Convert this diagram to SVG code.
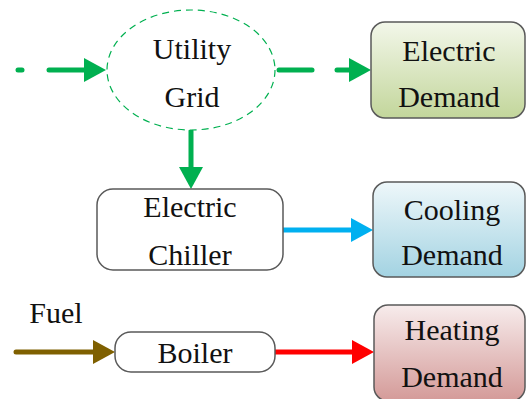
<svg xmlns="http://www.w3.org/2000/svg" width="528" height="399" viewBox="0 0 528 399">
<defs>
<style>
.t{font-family:"Liberation Serif","Times New Roman",serif;font-size:30px;fill:#111;text-anchor:middle}
.box{stroke:#595959;stroke-width:1.5}
.g{stroke:#00b050;stroke-width:5;fill:none;stroke-linecap:round}
</style>
<linearGradient id="gG" x1="0" y1="0" x2="0" y2="1"><stop offset="0" stop-color="#f3f7ea"/><stop offset="1" stop-color="#c3d69b"/></linearGradient>
<linearGradient id="gB" x1="0" y1="0" x2="0" y2="1"><stop offset="0" stop-color="#eef7fa"/><stop offset="1" stop-color="#a3d3e2"/></linearGradient>
<linearGradient id="gR" x1="0" y1="0" x2="0" y2="1"><stop offset="0" stop-color="#f7ecec"/><stop offset="1" stop-color="#d49a98"/></linearGradient>
<marker id="aG" markerUnits="userSpaceOnUse" markerWidth="22" markerHeight="24" refX="10" refY="12" orient="auto"><path d="M0,0 L22,12 L0,24 z" fill="#00b050"/></marker>
<marker id="aB" markerUnits="userSpaceOnUse" markerWidth="22" markerHeight="24" refX="10" refY="12" orient="auto"><path d="M0,0 L22,12 L0,24 z" fill="#00b0f0"/></marker>
<marker id="aR" markerUnits="userSpaceOnUse" markerWidth="22" markerHeight="24" refX="10" refY="12" orient="auto"><path d="M0,0 L22,12 L0,24 z" fill="#ff0000"/></marker>
<marker id="aN" markerUnits="userSpaceOnUse" markerWidth="22" markerHeight="24" refX="10" refY="12" orient="auto"><path d="M0,0 L22,12 L0,24 z" fill="#7f6000"/></marker>
</defs>
<rect width="528" height="399" fill="#fff"/>
<g id="connectors">
<line class="g" x1="18" y1="70" x2="22" y2="70"/>
<line class="g" x1="49" y1="70" x2="94" y2="70" stroke-linecap="butt" marker-end="url(#aG)"/>
<line class="g" x1="279" y1="70" x2="312" y2="70"/>
<line class="g" x1="337" y1="70" x2="359" y2="70" marker-end="url(#aG)"/>
<line class="g" x1="191" y1="131" x2="191" y2="177" stroke-linecap="butt" marker-end="url(#aG)"/>
<line x1="283" y1="230" x2="361" y2="230" stroke="#00b0f0" stroke-width="5" marker-end="url(#aB)"/>
<line x1="275" y1="352" x2="362" y2="352" stroke="#ff0000" stroke-width="5" marker-end="url(#aR)"/>
<line x1="16" y1="352" x2="103" y2="352" stroke="#7f6000" stroke-width="5" stroke-linecap="round" marker-end="url(#aN)"/>
</g>
<g id="utility-grid">
<ellipse cx="191" cy="70" rx="84" ry="60" fill="#fff" stroke="#00b050" stroke-width="1.2" stroke-dasharray="7 5"/>
<text class="t" x="192" y="59">Utility</text>
<text class="t" x="192" y="107">Grid</text>
</g>
<g id="electric-demand">
<rect class="box" x="371" y="22" width="154" height="96" rx="14" fill="url(#gG)"/>
<text class="t" x="449" y="61">Electric</text>
<text class="t" x="449" y="107">Demand</text>
</g>
<g id="electric-chiller">
<rect class="box" x="97" y="189" width="186" height="81" rx="16" fill="#fff"/>
<text class="t" x="190" y="217">Electric</text>
<text class="t" x="190" y="265">Chiller</text>
</g>
<g id="cooling-demand">
<rect class="box" x="373" y="182" width="152" height="95" rx="14" fill="url(#gB)"/>
<text class="t" x="452" y="220">Cooling</text>
<text class="t" x="452" y="265">Demand</text>
</g>
<g id="fuel">
<text class="t" x="56" y="323">Fuel</text>
</g>
<g id="boiler">
<rect class="box" x="115" y="332" width="160" height="40" rx="16" fill="#fff"/>
<text class="t" x="195" y="363">Boiler</text>
</g>
<g id="heating-demand">
<rect class="box" x="374" y="305" width="151" height="96" rx="14" fill="url(#gR)"/>
<text class="t" x="452" y="340">Heating</text>
<text class="t" x="452" y="387">Demand</text>
</g>
</svg>
